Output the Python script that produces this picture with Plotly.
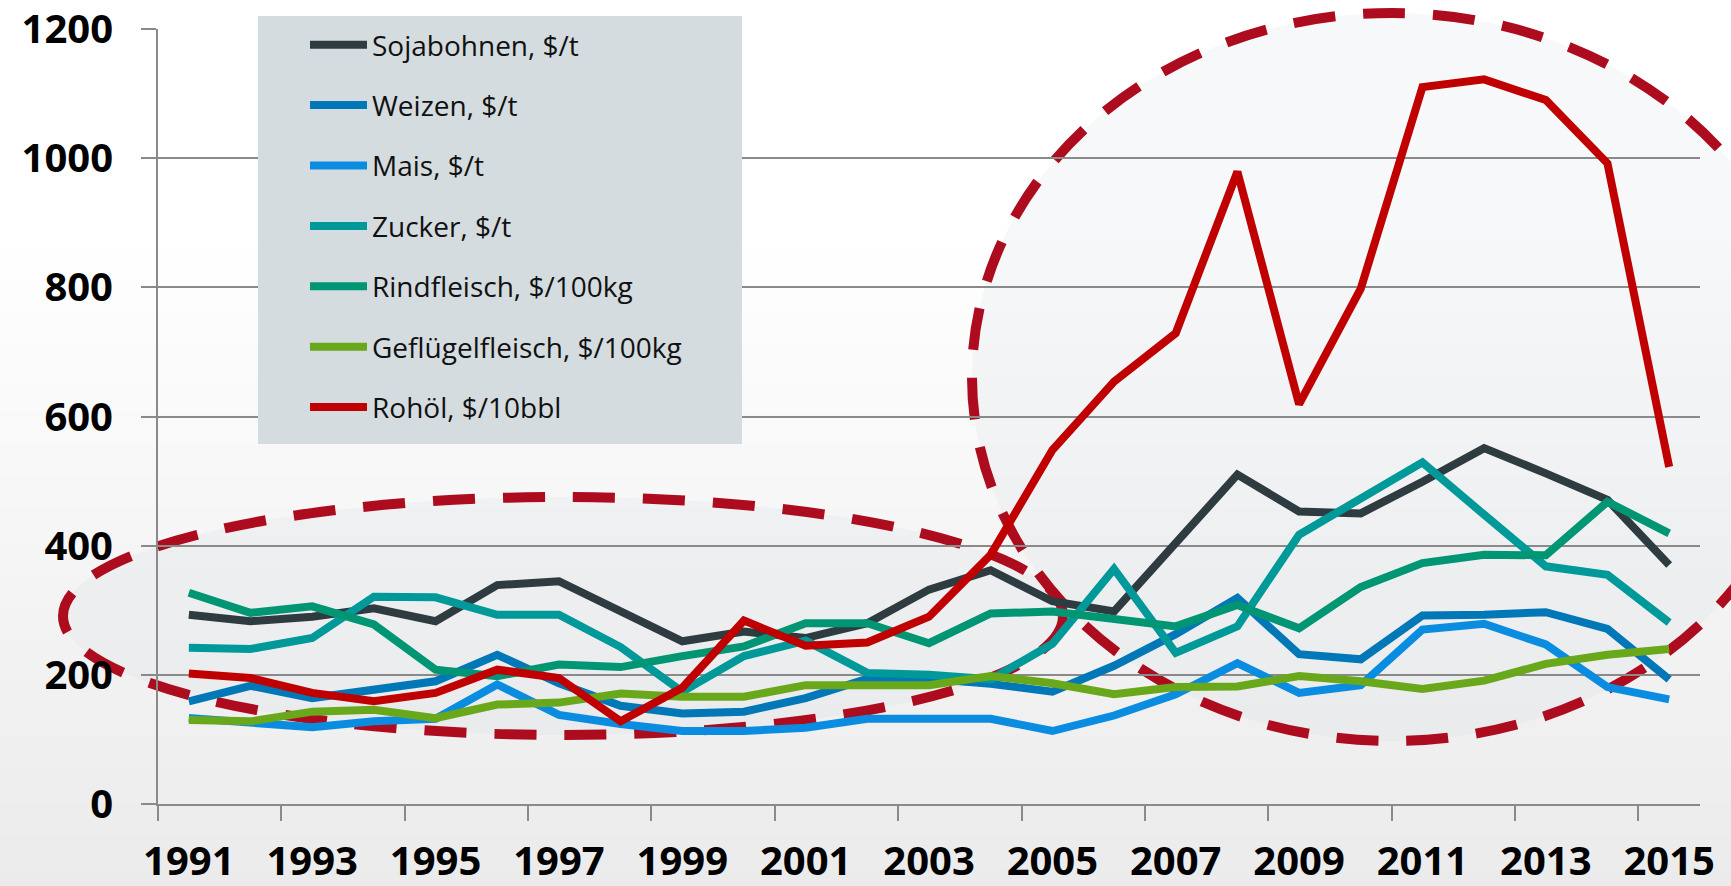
import plotly.graph_objects as go

# ---------------- data ----------------
years = list(range(1991, 2016))
sojabohnen = [293, 283, 290, 303, 283, 339, 345, 298, 252, 267, 257, 280, 332, 362, 314, 298,
              404, 510, 453, 450, 499, 551, 512, 471, 370]
weizen = [159, 183, 164, 177, 190, 231, 187, 152, 140, 143, 164, 194, 194, 186, 174, 214,
          263, 319, 232, 224, 292, 293, 297, 271, 193]
mais = [133, 127, 119, 128, 132, 185, 138, 124, 113, 113, 118, 132, 132, 132, 113, 137,
        170, 218, 172, 184, 270, 279, 247, 181, 162]
zucker = [242, 240, 257, 321, 320, 293, 293, 243, 174, 229, 253, 203, 200, 193, 248, 364,
          234, 275, 417, 472, 529, 448, 368, 355, 281]
rindfleisch = [327, 296, 306, 278, 208, 198, 216, 212, 229, 244, 280, 280, 249, 295, 298, 285,
               275, 308, 272, 336, 373, 386, 385, 468, 419]
gefluegel = [130, 128, 143, 146, 133, 154, 157, 171, 166, 166, 184, 184, 184, 198, 187, 170,
             181, 182, 198, 190, 178, 191, 217, 231, 240]
rohoel = [202, 195, 172, 159, 172, 208, 195, 128, 180, 284, 245, 250, 290, 386, 548, 654,
          729, 979, 619, 798, 1110, 1122, 1090, 992, 522]

series_names = ["Sojabohnen, $/t", "Weizen, $/t", "Mais, $/t", "Zucker, $/t",
                "Rindfleisch, $/100kg", "Geflügelfleisch, $/100kg", "Rohöl, $/10bbl"]
series_values = [sojabohnen, weizen, mais, zucker, rindfleisch, gefluegel, rohoel]
series_colors = ["#2E3B40", "#0077B6", "#0A8DE0", "#009999", "#009673", "#6AA81B", "#C00000"]

y_ticks = [0, 200, 400, 600, 800, 1000, 1200]
x_label_years = list(range(1991, 2016, 2))

# ---------------- layout geometry ----------------
W, H = 1731, 886
L, R, T, B = 158, 31, 29, 82
PW = W - L - R
PH = H - T - B


def dx(px):
    return (px - L) / PW


def dy(py):
    return (H - B - py) / PH


GRID = "#8A8A8A"
DASH_RED = "#AD0C1F"

fig = go.Figure()
for name, vals, col in zip(series_names, series_values, series_colors):
    fig.add_trace(go.Scatter(
        x=years, y=vals, mode="lines", name=name, legendgroup=name,
        line=dict(color=col, width=8),
    ))

shapes = []
# page background gradient (white -> light grey towards the bottom)
n_bands = 40
start_px = 230
for k in range(n_bands):
    y0 = start_px + (H - start_px) * k / n_bands
    y1 = start_px + (H - start_px) * (k + 1) / n_bands + 1
    g = int(round(255 - (255 - 235) * (k + 0.5) / n_bands))
    shapes.append(dict(type="rect", xref="paper", yref="paper",
                       x0=dx(0), x1=dx(W), y0=dy(y1), y1=dy(y0),
                       fillcolor=f"rgb({g},{g},{g})", line=dict(width=0), layer="below"))

ellipses = [
    (63, 1063, 497, 735),    # left, right, top, bottom (pixels)
    (972, 1812, 13, 741),
]
for (x0, x1, y0, y1) in ellipses:
    shapes.append(dict(type="circle", xref="paper", yref="paper",
                       x0=dx(x0), x1=dx(x1), y0=dy(y1), y1=dy(y0),
                       fillcolor="rgba(205,212,218,0.16)", line=dict(width=0), layer="below"))
for (x0, x1, y0, y1) in ellipses:
    shapes.append(dict(type="circle", xref="paper", yref="paper",
                       x0=dx(x0), x1=dx(x1), y0=dy(y1), y1=dy(y0),
                       fillcolor="rgba(0,0,0,0)",
                       line=dict(color=DASH_RED, width=10, dash="42px,28px"), layer="below"))

# legend box
shapes.append(dict(type="rect", xref="paper", yref="paper",
                   x0=dx(258), x1=dx(742), y0=dy(444), y1=dy(16),
                   fillcolor="#D4DCDF", line=dict(width=0), layer="above"))

fig.update_layout(
    width=W, height=H,
    margin=dict(l=L, r=R, t=T, b=B, pad=0, autoexpand=False),
    paper_bgcolor="white",
    plot_bgcolor="rgba(0,0,0,0)",
    shapes=shapes,
    showlegend=True,
    legend=dict(
        x=dx(305), y=dy(20), xanchor="left", yanchor="top",
        bgcolor="rgba(0,0,0,0)", borderwidth=0,
        font=dict(family="Open Sans", size=28, color="#111111"),
        tracegroupgap=21, itemwidth=57,
    ),
    xaxis=dict(
        range=[1990.5, 2015.5], tickmode="array", tickvals=x_label_years,
        ticktext=[str(y) for y in x_label_years],
        ticks="", showgrid=False, zeroline=False, automargin=False,
        showline=True, linecolor=GRID, linewidth=2,
        tickfont=dict(family="Open Sans", size=40, color="black", weight="bold"),
        ticklabelstandoff=21,
        minor=dict(tickmode="array", tickvals=[y - 0.5 for y in x_label_years],
                   ticks="outside", ticklen=15, tickwidth=2, tickcolor=GRID, showgrid=False),
    ),
    yaxis=dict(
        range=[0, 1200], tickmode="array", tickvals=y_ticks,
        showgrid=True, gridcolor=GRID, gridwidth=2, zeroline=False, automargin=False,
        showline=True, linecolor=GRID, linewidth=2,
        ticks="outside", ticklen=15, tickwidth=2, tickcolor=GRID,
        tickfont=dict(family="Open Sans", size=40, color="black", weight="bold"),
        ticklabelstandoff=20,
    ),
)

fig.write_html("out.html", include_plotlyjs=True, config={"displayModeBar": False},
               post_script="document.body.style.margin='0';document.body.style.overflow='hidden';")
